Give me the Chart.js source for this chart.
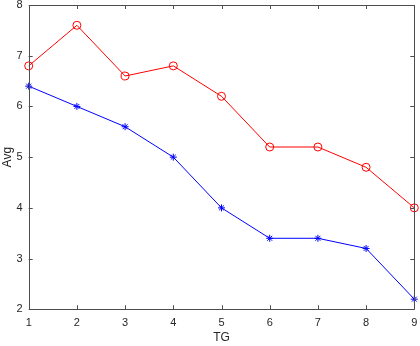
<!DOCTYPE html>
<html><head><meta charset="utf-8">
<script src="https://cdn.jsdelivr.net/npm/chart.js@4/dist/chart.umd.min.js"></script>
<style>html,body{margin:0;padding:0;background:#fff}#wrap{width:420px;height:346px}</style>
</head><body><div id="wrap"><canvas id="c" width="420" height="346"></canvas></div>
<script>
const tg = [1,2,3,4,5,6,7,8,9];
const redSeries = [6.8,7.6,6.6,6.8,6.2,5.2,5.2,4.8,4.0];
const blueSeries = [6.4,6.0,5.6,5.0,4.0,3.4,3.4,3.2,2.2];
const xTicks = [1,2,3,4,5,6,7,8,9];
const yTicks = [2,3,4,5,6,7,8];

const axisColor = '#4d4d4d';
const textColor = '#262626';
const font = {family: 'Liberation Sans, Arial, sans-serif', size: 11};

const boxPlugin = {
  id: 'box',
  afterDraw(chart) {
    const {ctx, chartArea: a, scales: {x, y}} = chart;
    ctx.save();
    ctx.strokeStyle = axisColor;
    ctx.lineWidth = 1;
    ctx.beginPath();
    ctx.rect(Math.round(a.left)+0.5, Math.round(a.top)+0.5, Math.round(a.right)-Math.round(a.left), Math.round(a.bottom)-Math.round(a.top));
    const L = 4;
    xTicks.forEach(v => {
      const px = Math.round(x.getPixelForValue(v)) + 0.5;
      ctx.moveTo(px, a.bottom); ctx.lineTo(px, a.bottom - L);
      ctx.moveTo(px, a.top); ctx.lineTo(px, a.top + L);
    });
    yTicks.forEach(v => {
      const py = Math.round(y.getPixelForValue(v)) + 0.5;
      ctx.moveTo(a.left, py); ctx.lineTo(a.left + L, py);
      ctx.moveTo(a.right, py); ctx.lineTo(a.right - L, py);
    });
    ctx.stroke();
    ctx.restore();
  }
};

new Chart(document.getElementById('c'), {
  type: 'line',
  data: {
    datasets: [
      {
        data: tg.map((t,i) => ({x: t, y: redSeries[i]})),
        borderColor: '#ff0000', backgroundColor: 'rgba(0,0,0,0)',
        borderWidth: 1, pointStyle: 'circle', pointRadius: 4,
        pointBorderColor: '#ff0000', pointBackgroundColor: 'rgba(0,0,0,0)', pointBorderWidth: 1,
        tension: 0, clip: false
      },
      {
        data: tg.map((t,i) => ({x: t, y: blueSeries[i]})),
        borderColor: '#0000ff', backgroundColor: 'rgba(0,0,0,0)',
        borderWidth: 1, pointStyle: 'star', pointRadius: 3.5,
        pointBorderColor: '#0000ff', pointBackgroundColor: 'rgba(0,0,0,0)', pointBorderWidth: 1,
        tension: 0, clip: false
      }
    ]
  },
  options: {
    responsive: false, animation: false, maintainAspectRatio: false,
    layout: {padding: {left: 0, top: 4.7, right: 5.7, bottom: 0}},
    plugins: {legend: {display: false}, tooltip: {enabled: false}},
    scales: {
      x: {
        type: 'linear', min: 1, max: 9,
        afterFit(s) { s.height = 36.7; s.paddingLeft = 0; s.paddingRight = 0; },
        afterBuildTicks(s) { s.ticks = xTicks.map(v => ({value: v})); },
        grid: {display: false, drawTicks: false},
        border: {display: false},
        ticks: {color: textColor, font: font, padding: 7, maxRotation: 0},
        title: {display: true, text: 'TG', color: textColor, font: {family: font.family, size: 12}, padding: {top: 0, bottom: 1}}
      },
      y: {
        type: 'linear', min: 2, max: 8,
        afterFit(s) { s.width = 28.7; s.paddingTop = 0; s.paddingBottom = 0; },
        afterBuildTicks(s) { s.ticks = yTicks.map(v => ({value: v})); },
        grid: {display: false, drawTicks: false},
        border: {display: false},
        ticks: {color: textColor, font: font, padding: 6},
        title: {display: true, text: 'Avg', color: textColor, font: {family: font.family, size: 12}, padding: {top: 0, bottom: 0}}
      }
    }
  },
  plugins: [boxPlugin]
});
</script></body></html>
